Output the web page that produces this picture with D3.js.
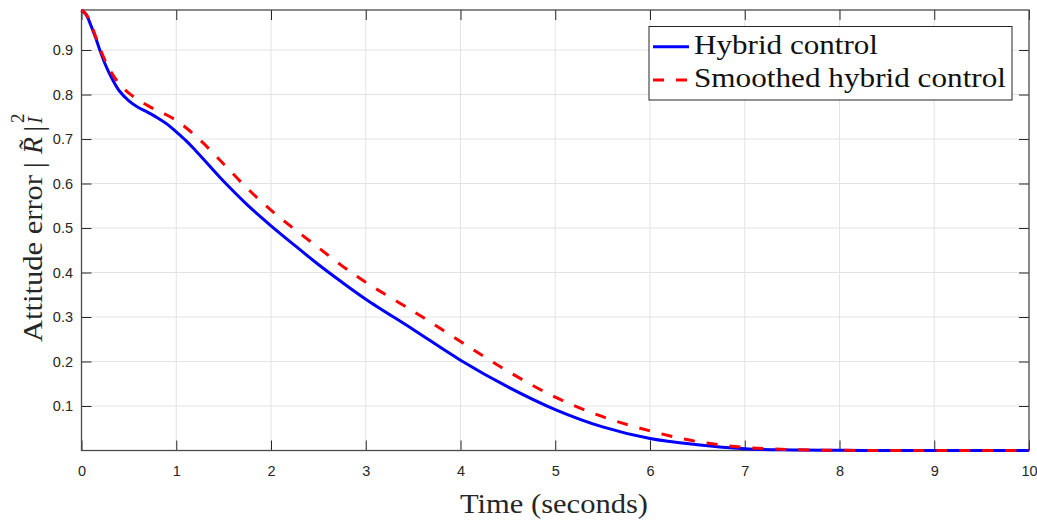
<!DOCTYPE html>
<html>
<head>
<meta charset="utf-8">
<script src="https://cdn.jsdelivr.net/npm/d3@7"></script>
<style>
  html, body { margin: 0; padding: 0; background: #fff; }
  svg { display: block; }
</style>
</head>
<body>
<div id="chart"></div>
<script>
// ---- Data ----
const timeSec = [0, 0.05, 0.1, 0.15, 0.2, 0.25, 0.3, 0.35, 0.4, 0.5, 0.6, 0.7, 0.8, 0.9,
  1.0, 1.1, 1.2, 1.3, 1.4, 1.5, 1.75, 2.0, 2.25, 2.5, 2.75, 3.0, 3.5, 4.0, 4.5, 5.0,
  5.5, 6.0, 6.5, 7.0, 7.5, 8.0, 8.5, 9.0, 9.5, 10];

const hybrid = [0.99, 0.979, 0.955, 0.927, 0.896, 0.868, 0.845, 0.825, 0.808, 0.786, 0.771, 0.760, 0.748, 0.734,
  0.716, 0.697, 0.675, 0.652, 0.628, 0.605, 0.552, 0.505, 0.461, 0.418, 0.378, 0.340, 0.272, 0.203, 0.143, 0.092,
  0.053, 0.027, 0.013, 0.004, 0.0012, 0.0003, 0, 0, 0, 0];

const smoothed = [0.99, 0.980, 0.958, 0.930, 0.901, 0.876, 0.855, 0.838, 0.824, 0.803, 0.788, 0.775, 0.764, 0.754,
  0.742, 0.726, 0.708, 0.688, 0.666, 0.644, 0.589, 0.540, 0.497, 0.456, 0.415, 0.378, 0.313, 0.245, 0.178, 0.120,
  0.076, 0.044, 0.020, 0.007, 0.002, 0.0005, 0, 0, 0, 0];

const xTicks = [0, 1, 2, 3, 4, 5, 6, 7, 8, 9, 10];
const yTicks = [0.1, 0.2, 0.3, 0.4, 0.5, 0.6, 0.7, 0.8, 0.9];

const seriesNames = ["Hybrid control", "Smoothed hybrid control"];

// ---- Layout ----
const W = 1037, H = 523;
const margin = { top: 10, right: 8, bottom: 72.5, left: 81.5 };
const width = W - margin.left - margin.right;
const height = H - margin.top - margin.bottom;
const AX = "#262626";

const svg = d3.select("#chart").append("svg")
  .attr("width", W).attr("height", H);
const g = svg.append("g")
  .attr("transform", `translate(${margin.left},${margin.top})`);

// ---- Scales ----
const x = d3.scaleLinear().domain([0, 10]).range([0, width]);
const y = d3.scaleLinear().domain([0, 0.99]).range([height, 0]);

// ---- Grid ----
g.append("g").selectAll("line.vg").data(xTicks.slice(1, -1)).join("line")
  .attr("x1", d => x(d)).attr("x2", d => x(d))
  .attr("y1", 0).attr("y2", height)
  .attr("stroke", "#e3e3e3").attr("stroke-width", 1);
g.append("g").selectAll("line.hg").data(yTicks).join("line")
  .attr("x1", 0).attr("x2", width)
  .attr("y1", d => y(d)).attr("y2", d => y(d))
  .attr("stroke", "#e3e3e3").attr("stroke-width", 1);

// ---- Axes (MATLAB style, ticks inside, box) ----
function styleAxis(sel) {
  sel.select(".domain").remove();
  sel.selectAll(".tick line").attr("stroke", AX).attr("stroke-width", 1);
  sel.selectAll(".tick text")
    .attr("fill", AX)
    .style("font-family", "'Liberation Sans', Arial, Helvetica, sans-serif")
    .style("font-size", "14.5px");
}

g.append("g").attr("transform", `translate(0,${height})`)
  .call(d3.axisBottom(x).tickValues(xTicks).tickSize(-10).tickPadding(15).tickFormat(d3.format("d")))
  .call(styleAxis);
g.append("g")
  .call(d3.axisTop(x).tickValues(xTicks).tickSize(-10).tickFormat(""))
  .call(styleAxis);
g.append("g")
  .call(d3.axisLeft(y).tickValues(yTicks).tickSize(-10).tickPadding(8.5).tickFormat(d3.format(".1f")))
  .call(styleAxis);
g.append("g").attr("transform", `translate(${width},0)`)
  .call(d3.axisRight(y).tickValues(yTicks).tickSize(-10).tickFormat(""))
  .call(styleAxis);

g.append("rect")
  .attr("x", 0).attr("y", 0).attr("width", width).attr("height", height)
  .attr("fill", "none").attr("stroke", "#4a4a4a").attr("stroke-width", 1.3);

// ---- Lines ----
const line = d3.line()
  .x(d => x(d[0]))
  .y(d => y(Math.max(0, d[1])))
  .curve(d3.curveCatmullRom.alpha(0.5));

g.append("path")
  .datum(timeSec.map((t, i) => [t, hybrid[i]]))
  .attr("d", line)
  .attr("fill", "none").attr("stroke", "#0000ff").attr("stroke-width", 3);

g.append("path")
  .datum(timeSec.map((t, i) => [t, smoothed[i]]))
  .attr("d", line)
  .attr("fill", "none").attr("stroke", "#ff0000").attr("stroke-width", 3)
  .attr("stroke-dasharray", "11,12");

// ---- Axis labels ----
const SERIF = "'Liberation Serif', 'Times New Roman', serif";

svg.append("text")
  .attr("x", 460).attr("y", 513)
  .attr("textLength", 188).attr("lengthAdjust", "spacingAndGlyphs")
  .style("font-family", SERIF).style("font-size", "28px").attr("fill", AX)
  .text("Time (seconds)");

const yl = svg.append("g").attr("transform", "translate(42,0) rotate(-90)")
  .style("font-family", SERIF).attr("fill", AX);
yl.append("text").attr("x", -342).attr("y", 0)
  .attr("textLength", 167).attr("lengthAdjust", "spacingAndGlyphs")
  .style("font-size", "28px").text("Attitude error");
yl.append("text").attr("x", -168).attr("y", 1).style("font-size", "28px").text("|");
yl.append("text").attr("x", -154).attr("y", 0).style("font-size", "28px")
  .style("font-style", "italic").text("R");
yl.append("text").attr("x", -149).attr("y", -4).style("font-size", "28px").text("\u02DC");
yl.append("text").attr("x", -131.5).attr("y", 1).style("font-size", "28px").text("|");
yl.append("text").attr("x", -123).attr("y", -18).style("font-size", "19px").text("2");
yl.append("text").attr("x", -123.5).attr("y", 0).style("font-size", "20px")
  .style("font-style", "italic").text("I");

// ---- Legend ----
const legend = svg.append("g");
legend.append("rect")
  .attr("x", 649).attr("y", 26.5).attr("width", 363).attr("height", 73.5)
  .attr("fill", "#fff").attr("stroke", AX).attr("stroke-width", 1);

const legendItems = [
  { name: seriesNames[0], color: "#0000ff", dash: null, width: 184 },
  { name: seriesNames[1], color: "#ff0000", dash: "11,12", width: 312 }
];
const rowY = d3.scaleOrdinal().domain(seriesNames).range([46.7, 80]);

legendItems.forEach(it => {
  legend.append("line")
    .attr("x1", 653).attr("x2", 689)
    .attr("y1", rowY(it.name)).attr("y2", rowY(it.name))
    .attr("stroke", it.color).attr("stroke-width", 3)
    .attr("stroke-dasharray", it.dash);
  legend.append("text")
    .attr("x", 694).attr("y", rowY(it.name) + 7)
    .attr("textLength", it.width).attr("lengthAdjust", "spacingAndGlyphs")
    .style("font-family", SERIF).style("font-size", "28px").attr("fill", "#111")
    .text(it.name);
});
</script>
</body>
</html>
